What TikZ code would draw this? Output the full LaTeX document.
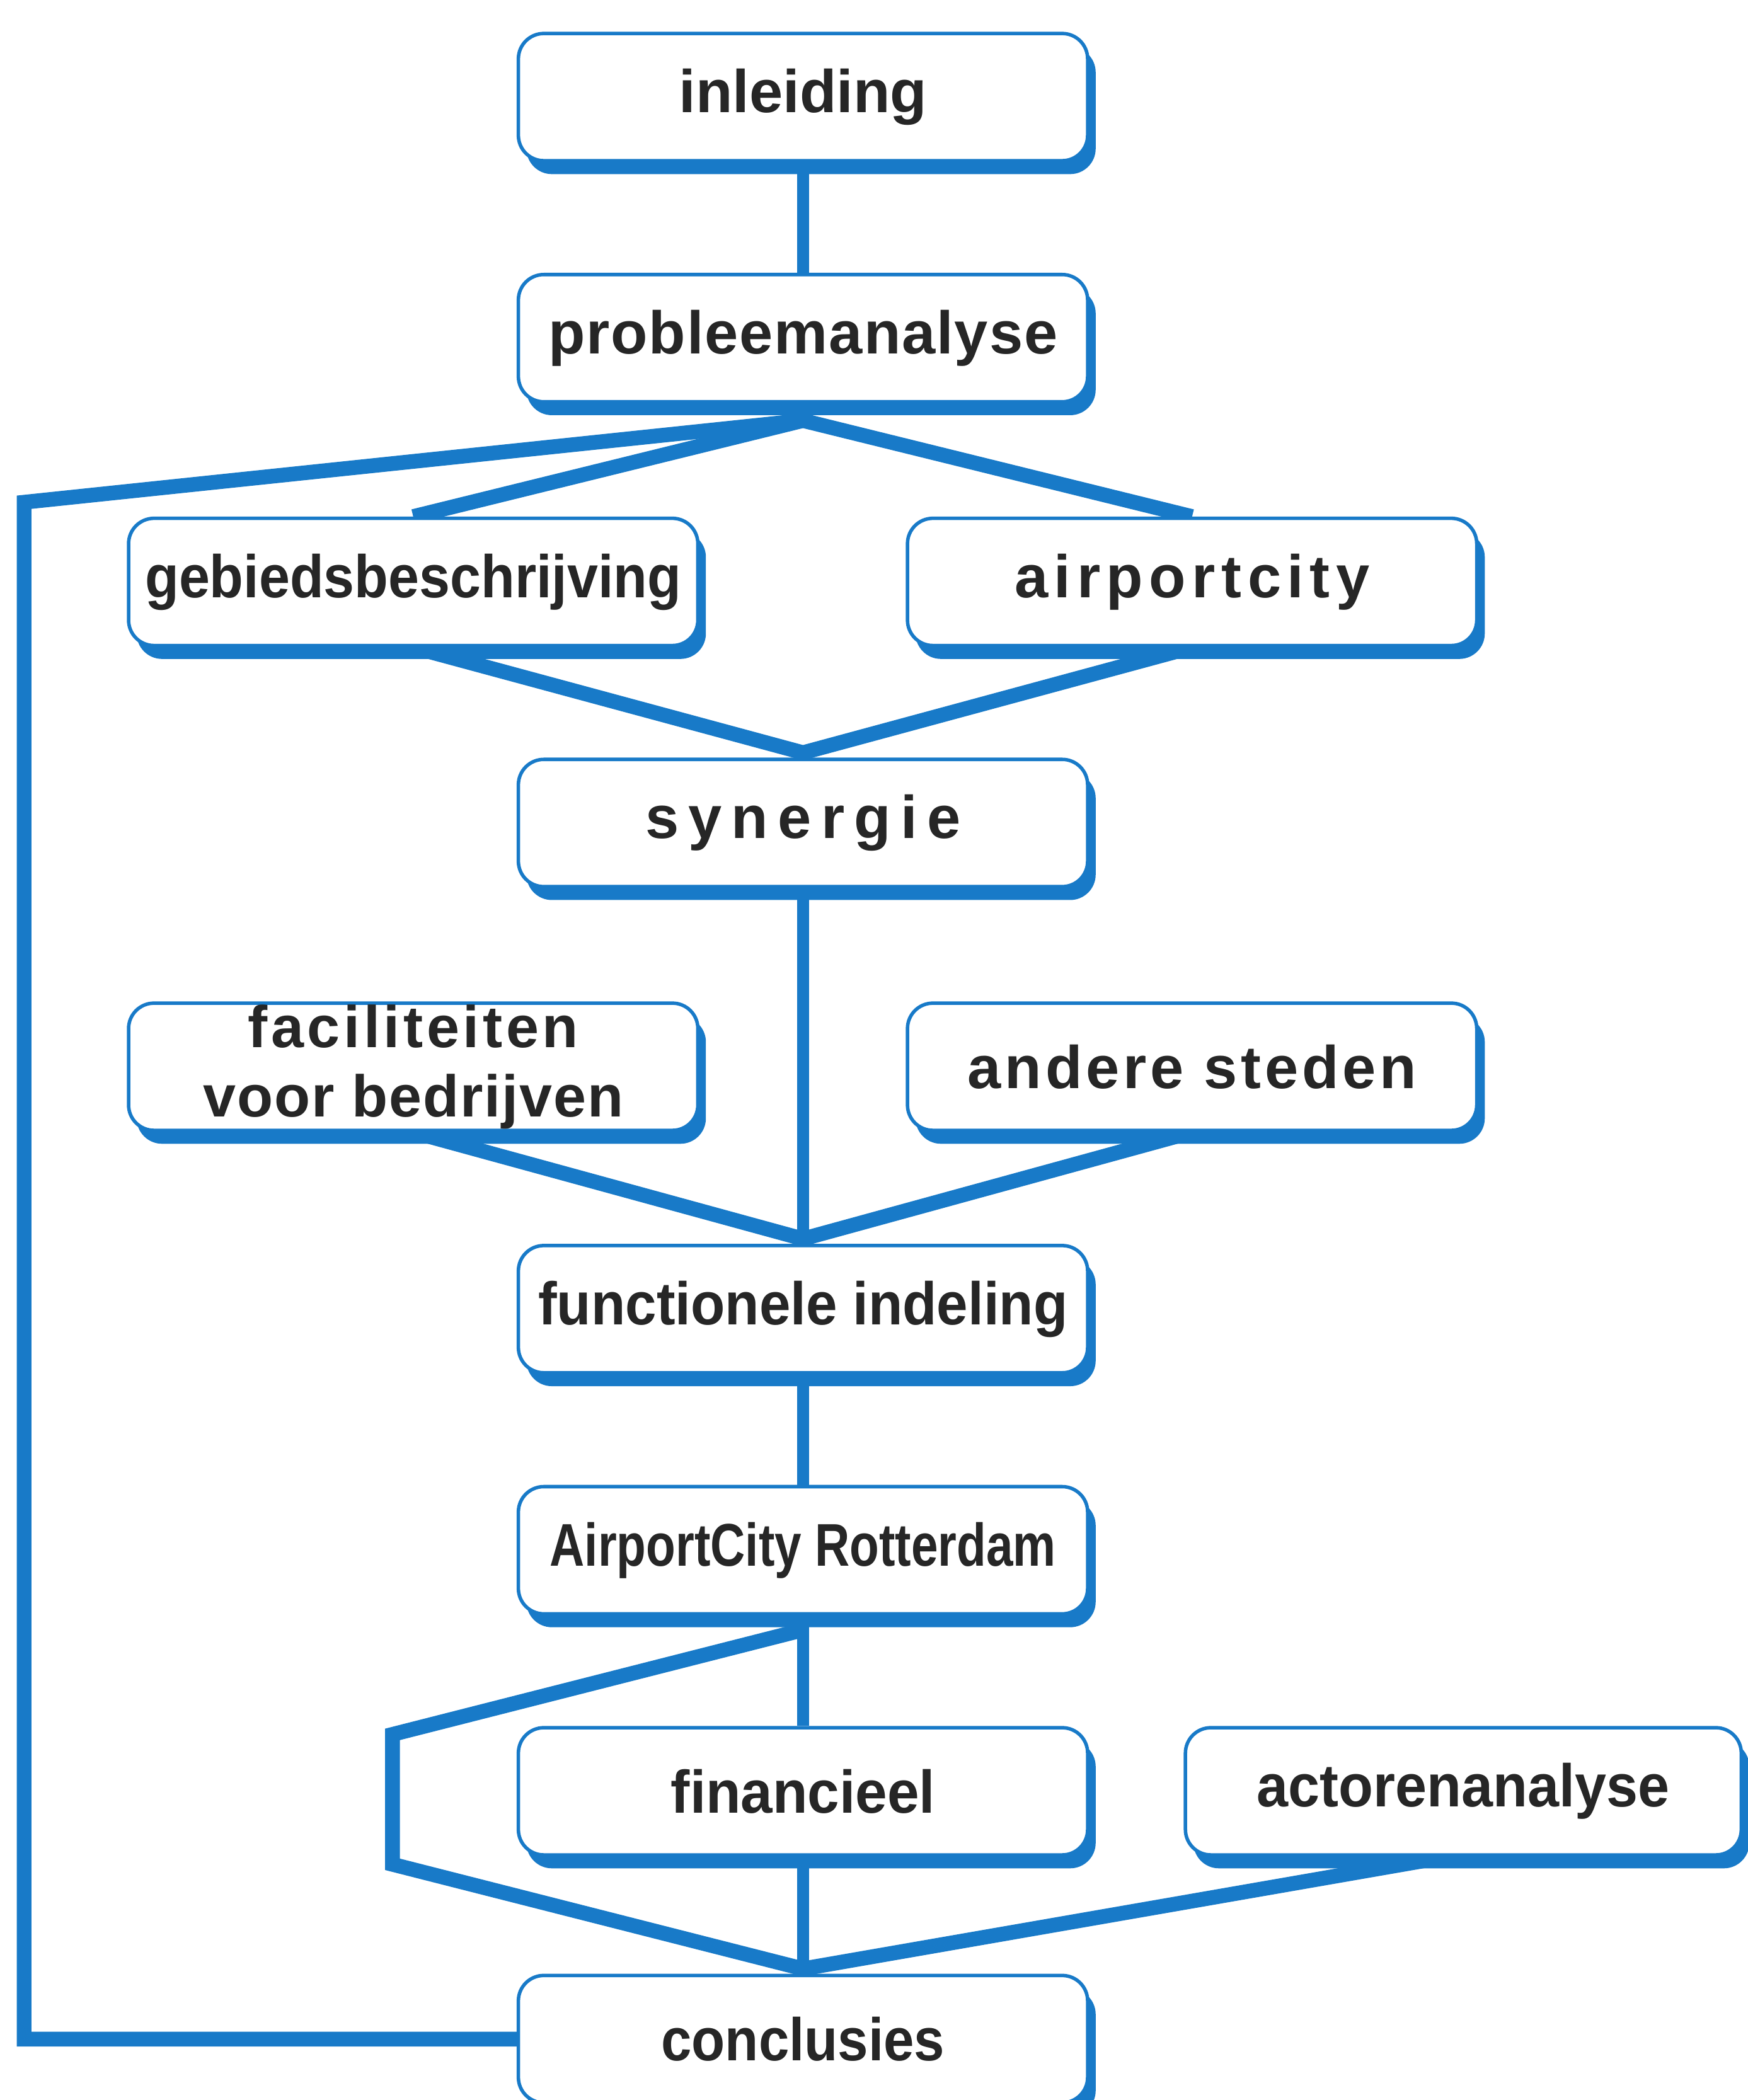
\documentclass[tikz,border=0pt]{standalone}
\usepackage{fontspec}
\setmainfont{Liberation Sans}
\usetikzlibrary{shadows,calc}
\definecolor{boxblue}{RGB}{24,122,200}
\definecolor{ink}{RGB}{38,38,38}
\newcommand\squeeze[2]{\scalebox{#1}[1]{#2}}
\newcommand\spaced[2]{{\addfontfeature{LetterSpace=#1}#2}}
\pgfdeclarelayer{bg}
\pgfsetlayers{bg,main}
\begin{document}
\begin{tikzpicture}[x=1pt,y=-1pt,
  box/.style={draw=boxblue, line width=2.6pt, fill=white, rounded corners=19pt,
    minimum width=425pt, minimum height=95pt, inner sep=0pt,
    font=\fontsize{45}{50}\selectfont\bfseries, text=ink, align=center,
    drop shadow={shadow xshift=6pt, shadow yshift=-10pt, fill=boxblue, opacity=1}},
  link/.style={draw=boxblue, line width=9pt},
  wide/.style={draw=boxblue, line width=11pt, line join=miter}]
\clip (0,0) rectangle (1305,1568);

% boxes
\node[box] (inl) at (599.5,72.5) {inleiding};
\node[box] (prob) at (599.5,252.5) {\spaced{2}{probleemanalyse}};
\node[box] (geb) at (308.5,434.5) {\squeeze{0.92}{gebiedsbeschrijving}};
\node[box] (air) at (890,434.5) {\spaced{10}{airportcity}};
\node[box] (syn) at (599.5,614.5) {\spaced{16}{synergie}};
\node[box, font=\fontsize{44}{52}\selectfont\bfseries] (fac) at (308.5,796.5)
  {\spaced{6}{faciliteiten}\\\spaced{2}{voor bedrijven}};
\node[box] (and) at (890,796.5) {\spaced{6}{andere steden}};
\node[box] (fun) at (599.5,977.5) {\squeeze{0.93}{functionele indeling}};
\node[box] (acr) at (599.5,1157.5) {\squeeze{0.8}{AirportCity Rotterdam}};
\node[box] (fin) at (599.5,1337.5) {\squeeze{0.95}{financieel}};
\node[box, minimum width=415pt] (act) at (1092.5,1337.5) {\squeeze{0.94}{actorenanalyse}};
\node[box] (con) at (599.5,1522.5) {\squeeze{0.91}{conclusies}};

% junction points of the connectors
\coordinate (h1) at (599.5,314);
\coordinate (fbtop) at (18,375);
\coordinate (h2) at (599.5,562);
\coordinate (h3) at (599.5,925);
\coordinate (h4) at (599.5,1217);
\coordinate (b1) at (293,1295);
\coordinate (b2) at (293,1392);
\coordinate (h5) at (599.5,1470);

\begin{pgfonlayer}{bg}
\fill[white] (0,0) rectangle (1305,1568);
\draw[link] (inl.south) -- (prob.north);
\draw[wide] (h1) -- (fbtop) |- (con.west);
\draw[wide] (geb.north) -- (h1) -- (air.north);
\draw[wide] (geb.south) -- (h2) -- (air.south);
\draw[link] (syn.south) -- (fun.north);
\draw[wide] (fac.south) -- (h3) -- (and.south);
\draw[link] (fun.south) -- (acr.north);
\draw[link] (acr.south) -- (fin.north);
\draw[link] (fin.south) -- (con.north);
\draw[wide] (h4) -- (b1) -- (b2) -- (h5) -- ($(act.south)+(-12,0)$);
\end{pgfonlayer}
\end{tikzpicture}
\end{document}
